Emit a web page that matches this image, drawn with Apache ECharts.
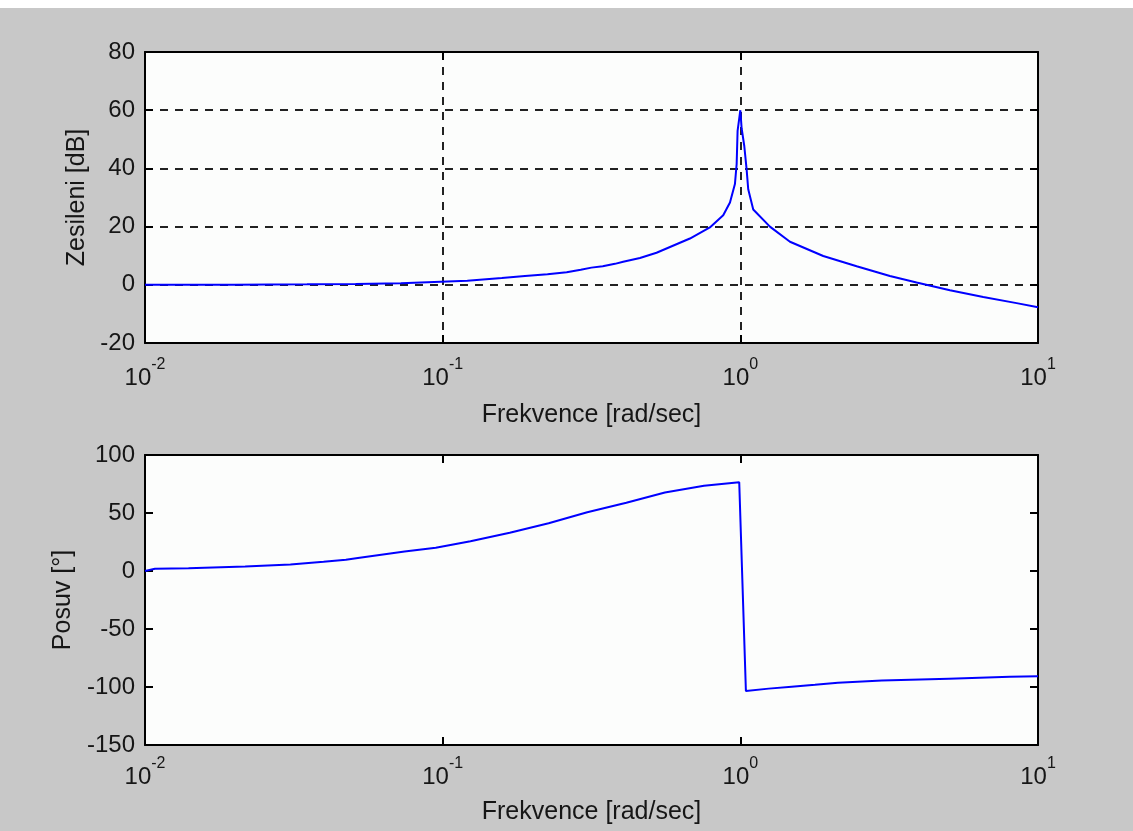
<!DOCTYPE html>
<html>
<head>
<meta charset="utf-8">
<script src="https://cdn.jsdelivr.net/npm/echarts/dist/echarts.min.js"></script>
<style>
  html, body { margin: 0; padding: 0; background: #c8c8c8; }
  #c { width: 1133px; height: 831px; }
</style>
</head>
<body>
<div id="c"></div>
<script>
// ---- data ----
const magFreq = [0.01, 0.02, 0.035, 0.051, 0.0724, 0.121, 0.158, 0.189, 0.225, 0.261, 0.291, 0.316, 0.345, 0.379, 0.404, 0.460, 0.523, 0.677, 0.790, 0.876, 0.923, 0.959, 0.972, 0.979, 1.0, 1.010, 1.031, 1.050, 1.063, 1.105, 1.257, 1.468, 1.899, 2.459, 3.180, 3.910, 5.059, 6.546, 8.475, 10];
const magDb   = [0, 0.05, 0.15, 0.3, 0.55, 1.4, 2.3, 3.0, 3.6, 4.3, 5.2, 5.9, 6.4, 7.2, 7.9, 9.2, 11.0, 15.9, 19.7, 23.9, 28.3, 34.6, 41.5, 52.9, 60, 53.8, 47.7, 39.6, 32.8, 25.9, 20, 14.8, 9.9, 6.4, 3.0, 0.8, -1.9, -4.2, -6.3, -7.7];

const phaseFreq = [0.01, 0.0108, 0.014, 0.0217, 0.0308, 0.0398, 0.0473, 0.0519, 0.0745, 0.0948, 0.124, 0.168, 0.227, 0.306, 0.414, 0.558, 0.755, 0.9915, 1.044, 1.245, 1.487, 1.781, 2.127, 2.990, 5.021, 8.045, 10];
const phaseDeg  = [0.0, 2.0, 2.4, 3.8, 5.6, 7.9, 9.7, 11.2, 16.8, 20, 25.6, 33, 41.2, 50.6, 58.8, 67.6, 73.5, 76.5, -103.4, -101.4, -99.7, -98, -96.3, -94.5, -92.8, -91.1, -90.8];

const xTickExponents = {'0.01': '-2', '0.1': '-1', '1': '0', '10': '1'};
const magTicks   = [-20, 0, 20, 40, 60, 80];
const phaseTicks = [-150, -100, -50, 0, 50, 100];

const xName = 'Frekvence [rad/sec]';
const magName = 'Zesileni [dB]';
const phaseName = 'Posuv [°]';

// ---- styling ----
const FONT = "'Liberation Sans', Arial, sans-serif";
const TXT = '#161616';
const AX = '#000000';

function expLabel(v) {
  const key = String(+v.toPrecision(3));
  const e = xTickExponents[key] !== undefined ? xTickExponents[key] : String(Math.round(Math.log10(v)));
  return '{b|10}{s|' + e + '}';
}

function xAxes(gridIndex, nameGap, labelMargin, withGrid) {
  return [{
    type: 'log', logBase: 10, gridIndex, min: 0.01, max: 10, position: 'bottom',
    name: xName, nameLocation: 'middle', nameGap,
    nameTextStyle: { fontFamily: FONT, fontSize: 25, color: TXT },
    axisLine: { show: true, onZero: false, lineStyle: { color: AX, width: 2 } },
    axisTick: { show: true, inside: true, length: 8, lineStyle: { color: AX, width: 2 } },
    minorTick: { show: false },
    axisLabel: {
      margin: labelMargin, formatter: expLabel, fontFamily: FONT, color: TXT,
      rich: {
        b: { fontFamily: FONT, fontSize: 24, color: TXT },
        s: { fontFamily: FONT, fontSize: 16, color: TXT, padding: [0, 0, 27, 0] }
      }
    },
    splitLine: { show: withGrid, lineStyle: { color: '#222', width: 2, type: [8, 7] } }
  }, {
    type: 'log', logBase: 10, gridIndex, min: 0.01, max: 10, position: 'top',
    axisLine: { show: true, onZero: false, lineStyle: { color: AX, width: 2 } },
    axisTick: { show: true, inside: true, length: 8, lineStyle: { color: AX, width: 2 } },
    axisLabel: { show: false }, splitLine: { show: false }
  }];
}

function yAxes(gridIndex, ticks, name, nameGap, withGrid) {
  const min = ticks[0], max = ticks[ticks.length - 1], interval = ticks[1] - ticks[0];
  return [{
    type: 'value', gridIndex, min, max, interval, position: 'left',
    name, nameLocation: 'middle', nameGap,
    nameTextStyle: { fontFamily: FONT, fontSize: 25, color: TXT },
    axisLine: { show: true, onZero: false, lineStyle: { color: AX, width: 2 } },
    axisTick: { show: true, inside: true, length: 8, lineStyle: { color: AX, width: 2 } },
    axisLabel: { margin: 10, fontFamily: FONT, fontSize: 24, color: TXT },
    splitLine: { show: withGrid, lineStyle: { color: '#222', width: 2, type: [8, 7] } }
  }, {
    type: 'value', gridIndex, min, max, interval, position: 'right',
    axisLine: { show: true, onZero: false, lineStyle: { color: AX, width: 2 } },
    axisTick: { show: true, inside: true, length: 8, lineStyle: { color: AX, width: 2 } },
    axisLabel: { show: false }, splitLine: { show: false }
  }];
}

const chart = echarts.init(document.getElementById('c'), null, { renderer: 'canvas' });
chart.setOption({
  animation: false,
  backgroundColor: '#c8c8c8',
  graphic: [{ type: 'rect', left: 0, top: 0, shape: { width: 1133, height: 8 }, style: { fill: '#ffffff' }, silent: true }],
  grid: [
    { left: 145, top: 52, width: 893, height: 291, show: true, backgroundColor: '#fcfdfc', borderWidth: 0 },
    { left: 145, top: 455, width: 893, height: 290, show: true, backgroundColor: '#fcfdfc', borderWidth: 0 }
  ],
  xAxis: [...xAxes(0, 60, 14, true), ...xAxes(1, 55, 11, false)],
  yAxis: [...yAxes(0, magTicks, magName, 53, true), ...yAxes(1, phaseTicks, phaseName, 66, false)],
  series: [{
    type: 'line', xAxisIndex: 0, yAxisIndex: 0, showSymbol: false, symbol: 'none',
    lineStyle: { color: '#0000ff', width: 2 },
    data: magFreq.map((f, i) => [f, magDb[i]])
  }, {
    type: 'line', xAxisIndex: 2, yAxisIndex: 2, showSymbol: false, symbol: 'none',
    lineStyle: { color: '#0000ff', width: 2 },
    data: phaseFreq.map((f, i) => [f, phaseDeg[i]])
  }]
});
</script>
</body>
</html>
